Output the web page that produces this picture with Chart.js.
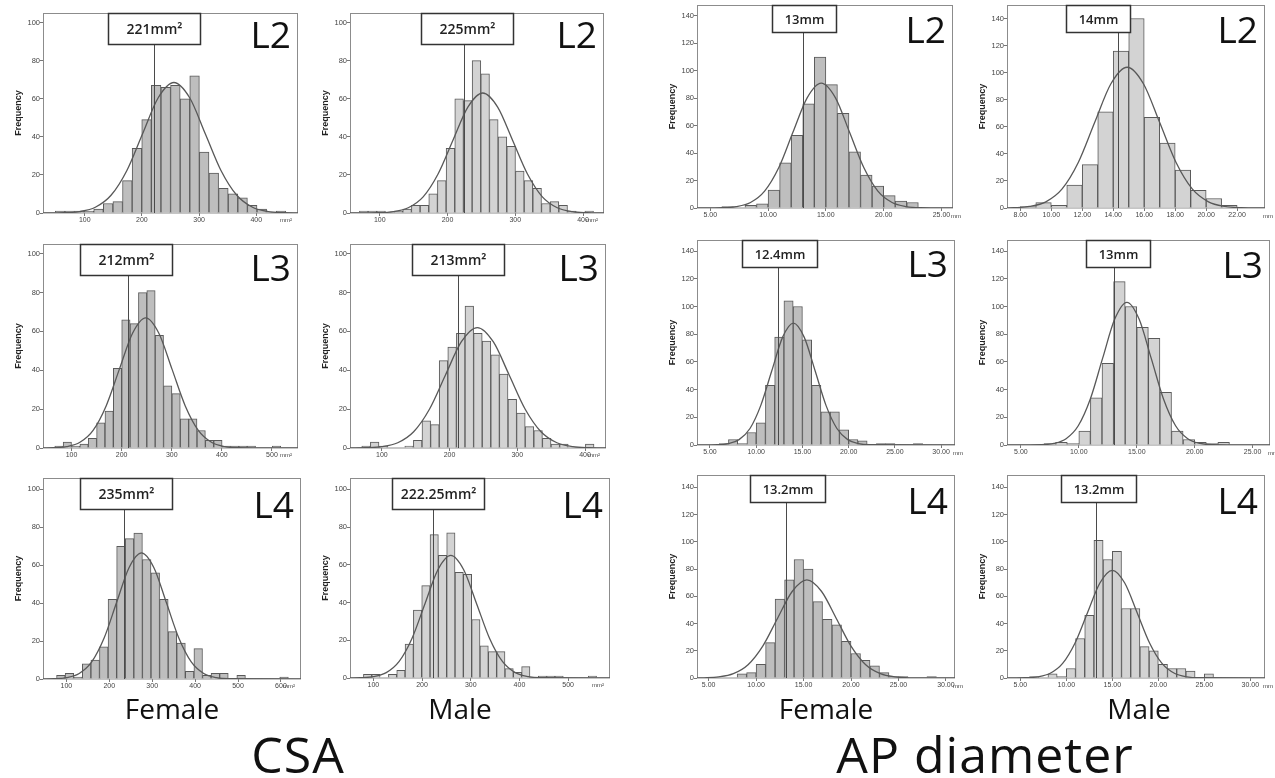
<!DOCTYPE html>
<html lang="en">
<head>
<meta charset="UTF-8">
<title>CSA and AP diameter distributions</title>
<script src="https://cdn.jsdelivr.net/npm/chart.js@4.4.1/dist/chart.umd.min.js"></script>
<style>
  html, body { margin: 0; padding: 0; background: #fff; overflow: hidden; }
  body { width: 1275px; height: 778px; position: relative; font-family: 'Open Sans', sans-serif; color: #111; }
  .panel { position: absolute; }
  .lvl { position: absolute; width: 70px; text-align: right; font-size: 37px; line-height: 1; }
  .grp { position: absolute; font-size: 28px; line-height: 1; transform: translateX(-50%); white-space: nowrap; }
  .measure { position: absolute; font-size: 50px; line-height: 1; letter-spacing: 1px; transform: translateX(-50%); white-space: nowrap; }
</style>
</head>
<body>
<script>
// ---------- data ----------
const levels = ['L2', 'L3', 'L4'];
const groups = ['Female', 'Male', 'Female', 'Male'];
const measures = ['CSA', 'AP diameter'];

// tick labels
const csaTicks4 = [100, 200, 300, 400];
const csaTicks5 = [100, 200, 300, 400, 500];
const csaTicks6 = [100, 200, 300, 400, 500, 600];
const apTicks25 = [5, 10, 15, 20, 25];
const apTicks30 = [5, 10, 15, 20, 25, 30];
const apTicksEven = [8, 10, 12, 14, 16, 18, 20, 22];
const freqTicks100 = [0, 20, 40, 60, 80, 100];
const freqTicks140 = [0, 20, 40, 60, 80, 100, 120, 140];

// panel order: L2 row, L3 row, L4 row; columns CSA female, CSA male, AP female, AP male
const xTicks = [csaTicks4, csaTicks4, apTicks25, apTicksEven,
                csaTicks5, csaTicks4, apTicks30, apTicks25,
                csaTicks6, csaTicks5, apTicks30, apTicks30];
const yTicks = [freqTicks100, freqTicks100, freqTicks140, freqTicks140,
                freqTicks100, freqTicks100, freqTicks140, freqTicks140,
                freqTicks100, freqTicks100, freqTicks140, freqTicks140];
const xMins = [27, 56, 3.85, 7.14, 43, 53, 3.6, 3.8, 45.6, 52, 3.77, 3.55];
const xMaxs = [473, 431, 26, 23.8, 552, 431, 31.5, 26.5, 646.7, 586, 30.96, 31.6];
const yMaxs = [105, 105, 148, 150, 105, 105, 148, 148, 106, 106, 149, 149];
const binStarts = [48.5, 69.9, 6, 8, 66.5, 70.4, 6, 7, 77.2, 79.6, 8, 6];
const binWidths = [16.8, 12.8, 1, 1, 16.7, 12.7, 1, 1, 20, 17.1, 1, 1];

// histogram counts
const countsCsaFL2 = [1, 1, 1, 1, 2, 5, 6, 17, 34, 49, 67, 66, 67, 60, 72, 32, 21, 13, 10, 8, 4, 2, 0, 1];
const countsCsaML2 = [1, 1, 1, 0, 1, 2, 4, 4, 10, 17, 34, 60, 59, 80, 73, 49, 40, 35, 22, 17, 13, 5, 6, 4, 1, 0, 1];
const countsApFL2 = [1, 0, 2, 3, 13, 33, 53, 76, 110, 90, 69, 41, 24, 16, 9, 5, 4];
const countsApML2 = [1, 4, 2, 17, 32, 71, 116, 140, 67, 48, 28, 13, 7, 2];
const countsCsaFL3 = [1, 3, 1, 2, 5, 13, 19, 41, 66, 64, 80, 81, 58, 32, 28, 15, 15, 9, 4, 4, 1, 1, 1, 1, 0, 0, 1];
const countsCsaML3 = [1, 3, 1, 0, 0, 1, 4, 14, 12, 45, 52, 59, 73, 59, 55, 48, 38, 25, 18, 11, 9, 5, 2, 2, 0, 0, 2];
const countsApFL3 = [1, 4, 1, 9, 16, 43, 78, 104, 100, 76, 43, 24, 24, 11, 4, 3, 0, 1, 1, 0, 0, 1];
const countsApML3 = [1, 2, 1, 10, 34, 59, 118, 100, 85, 77, 38, 10, 4, 2, 1, 2];
const countsCsaFL4 = [2, 3, 1, 8, 10, 17, 42, 70, 74, 77, 63, 56, 42, 25, 19, 4, 16, 2, 3, 3, 0, 2, 0, 0, 0, 0, 1];
const countsCsaML4 = [2, 2, 0, 2, 4, 18, 36, 49, 76, 65, 77, 56, 55, 31, 17, 14, 14, 5, 3, 6, 0, 1, 1, 1, 0, 0, 0, 1];
const countsApFL4 = [3, 4, 10, 26, 58, 72, 87, 80, 56, 43, 39, 27, 18, 13, 9, 4, 1, 1, 0, 0, 1];
const countsApML4 = [1, 0, 3, 1, 7, 29, 46, 101, 87, 93, 51, 51, 23, 20, 10, 7, 7, 5, 0, 3];

// fitted normal curves [x, frequency]
const curveCsaFL2 = [[27, 0.02], [63.5, 0.15], [91, 0.76], [118.5, 3.0], [146, 9.3], [173.5, 22.2], [201, 41.5], [228.5, 60.5], [256, 68.5], [283.5, 60.5], [311, 41.5], [338.5, 22.2], [366, 9.3], [393.5, 3.0], [421, 0.76], [448.5, 0.15], [473, 0.02]];
const curveCsaML2 = [[56, 0.01], [98, 0.14], [120, 0.7], [142, 2.77], [164, 8.5], [186, 20.5], [208, 38.2], [230, 55.6], [252, 63], [274, 55.6], [296, 38.2], [318, 20.5], [340, 8.5], [362, 2.77], [384, 0.7], [406, 0.14], [431, 0.01]];
const curveApFL2 = [[3.85, 0.01], [6.03, 0.2], [7.25, 1.0], [8.48, 4.0], [9.7, 12.3], [10.93, 29.5], [12.15, 55.2], [13.38, 80.3], [14.6, 91], [15.83, 80.3], [17.05, 55.2], [18.28, 29.5], [19.5, 12.3], [20.73, 4.0], [21.95, 1.0], [23.18, 0.2], [26, 0.01]];
const curveApML2 = [[7.14, 0.1], [7.55, 0.23], [8.6, 1.15], [9.65, 4.57], [10.7, 14.1], [11.75, 33.8], [12.8, 63.1], [13.85, 91.8], [14.9, 104], [15.95, 91.8], [17.0, 63.1], [18.05, 33.8], [19.1, 14.1], [20.15, 4.57], [21.2, 1.15], [22.25, 0.23], [23.8, 0.02]];
const curveCsaFL3 = [[43, 0.01], [64.25, 0.15], [90.5, 0.74], [116.75, 2.94], [143, 9.07], [169.25, 21.8], [195.5, 40.6], [221.75, 59.1], [248, 67], [274.25, 59.1], [300.5, 40.6], [326.75, 21.8], [353, 9.07], [379.25, 2.94], [405.5, 0.74], [431.75, 0.15], [552, 0]];
const curveCsaML3 = [[53, 0.03], [76.5, 0.14], [100, 0.69], [123.5, 2.72], [147, 8.39], [170.5, 20.1], [194, 37.6], [217.5, 54.7], [241, 62], [264.5, 54.7], [288, 37.6], [311.5, 20.1], [335, 8.39], [358.5, 2.72], [382, 0.69], [405.5, 0.14], [431, 0.02]];
const curveApFL3 = [[3.6, 0.01], [5.8, 0.19], [6.98, 0.98], [8.15, 3.86], [9.33, 11.9], [10.5, 28.6], [11.68, 53.4], [12.85, 77.7], [14.03, 88], [15.2, 77.7], [16.38, 53.4], [17.55, 28.6], [18.73, 11.9], [19.9, 3.86], [21.08, 0.98], [22.25, 0.19], [31.5, 0]];
const curveApML3 = [[3.8, 0.01], [6.8, 0.23], [7.85, 1.14], [8.9, 4.52], [9.95, 13.9], [11.0, 33.4], [12.05, 62.5], [13.1, 90.9], [14.15, 103], [15.2, 90.9], [16.25, 62.5], [17.3, 33.4], [18.35, 13.9], [19.4, 4.52], [20.45, 1.14], [21.5, 0.23], [26.5, 0]];
const curveCsaFL4 = [[45.6, 0.06], [72, 0.15], [101, 0.74], [130, 2.92], [159, 9.0], [188, 21.6], [217, 40.3], [246, 58.7], [275, 66.5], [304, 58.7], [333, 40.3], [362, 21.6], [391, 9.0], [420, 2.92], [449, 0.74], [478, 0.15], [646.7, 0]];
const curveCsaML4 = [[52, 0.03], [73.5, 0.14], [100, 0.72], [126.5, 2.85], [153, 8.8], [179.5, 21.1], [206, 39.4], [232.5, 57.4], [259, 65], [285.5, 57.4], [312, 39.4], [338.5, 21.1], [365, 8.8], [391.5, 2.85], [418, 0.72], [444.5, 0.14], [586, 0]];
const curveApFL4 = [[3.77, 0.06], [4.5, 0.16], [6.05, 0.8], [7.6, 3.16], [9.15, 9.74], [10.7, 23.4], [12.25, 43.7], [13.8, 63.5], [15.35, 72], [16.9, 63.5], [18.45, 43.7], [20.0, 23.4], [21.55, 9.74], [23.1, 3.16], [24.65, 0.8], [26.2, 0.16], [30.96, 0]];
const curveApML4 = [[3.55, 0.01], [5.55, 0.17], [6.9, 0.88], [8.25, 3.47], [9.6, 10.7], [10.95, 25.7], [12.3, 47.9], [13.65, 69.7], [15.0, 79], [16.35, 69.7], [17.7, 47.9], [19.05, 25.7], [20.4, 10.7], [21.75, 3.47], [23.1, 0.88], [24.45, 0.17], [31.6, 0]];

// cut-off marker lines and their labels
const markerValues = [221, 225, 13, 14.3, 212, 213, 12.4, 13, 235, 222.25, 13.2, 13.2];
const markerLabels = ['221mm²', '225mm²', '13mm', '14mm', '212mm²', '213mm²', '12.4mm', '13mm', '235mm²', '222.25mm²', '13.2mm', '13.2mm'];

const allCounts = [countsCsaFL2, countsCsaML2, countsApFL2, countsApML2,
                   countsCsaFL3, countsCsaML3, countsApFL3, countsApML3,
                   countsCsaFL4, countsCsaML4, countsApFL4, countsApML4];
const allCurves = [curveCsaFL2, curveCsaML2, curveApFL2, curveApML2,
                   curveCsaFL3, curveCsaML3, curveApFL3, curveApML3,
                   curveCsaFL4, curveCsaML4, curveApFL4, curveApML4];

// ---------- layout ----------
// plot frame of each panel on the page: left, top, right, bottom
const plotRects = [
  [43, 13, 298, 213], [350, 13, 604, 213], [697, 5, 953, 208], [1007, 5, 1265, 208],
  [43, 244, 298, 448], [350, 244, 606, 448], [697, 240, 955, 445], [1007, 240, 1270, 445],
  [43, 478, 301, 679], [350, 478, 610, 678], [697, 475, 955, 678], [1007, 475, 1265, 678]
];
// where the label boxes sit (axis units)
const boxCentres = [221, 228.4, 13.07, 13.0, 208.7, 212, 12.5, 13.4, 238.4, 232.9, 13.33, 13.48];
const levelCapTops = [22, 22, 17, 17, 255, 255, 251, 252, 492, 492, 488, 488];

const PAD_TOP = 8, Y_AXIS_W = 36, X_AXIS_H = 14, PAD_RIGHT = 14;

const framePlugin = {
  id: 'frame',
  beforeDatasetsDraw(chart) {
    const {ctx, chartArea: a} = chart;
    ctx.save();
    ctx.strokeStyle = '#8c8c8c';
    ctx.lineWidth = 1;
    ctx.strokeRect(a.left + 0.5, a.top + 0.5, a.right - a.left - 1, a.bottom - a.top - 0.5);
    ctx.restore();
  },
  afterDatasetsDraw(chart, args, opts) {
    const {ctx, chartArea: a} = chart;
    const x = chart.scales.x;
    ctx.save();
    // marker line
    const mx = Math.round(x.getPixelForValue(opts.value)) + 0.5;
    ctx.strokeStyle = '#4a4a4a';
    ctx.lineWidth = 1;
    ctx.beginPath();
    ctx.moveTo(mx, a.top + opts.boxH);
    ctx.lineTo(mx, a.bottom);
    ctx.stroke();
    // label box
    ctx.font = opts.font;
    const tw = ctx.measureText(opts.label).width;
    const bw = opts.boxW ? opts.boxW : Math.round(tw + 24);
    const bx = Math.round(x.getPixelForValue(opts.centre) - bw / 2) + 0.5;
    const by = a.top + 0.5;
    ctx.fillStyle = '#fff';
    ctx.fillRect(bx, by, bw, opts.boxH);
    ctx.lineWidth = 1.5;
    ctx.strokeStyle = '#333';
    ctx.strokeRect(bx, by, bw, opts.boxH);
    ctx.fillStyle = '#222';
    ctx.textAlign = 'center';
    ctx.textBaseline = 'middle';
    ctx.fillText(opts.label, bx + bw / 2, by + opts.boxH / 2 + 1);
    // unit at the end of the x axis
    ctx.font = '6px "Liberation Sans"';
    ctx.fillStyle = '#444';
    ctx.textBaseline = 'top';
    if (opts.unit === 'mm') {
      ctx.textAlign = 'left';
      ctx.fillText('mm', a.right - 2, a.bottom + 5);
    } else {
      ctx.textAlign = 'right';
      ctx.fillText('mm²', a.right - 6, a.bottom + 4);
    }
    ctx.restore();
  }
};

plotRects.forEach(function (rect, i) {
  const [l, t, r, b] = rect;
  const isCsa = (i % 4) < 2;
  const isFemale = (i % 2) === 0;
  const w = r - l + Y_AXIS_W + PAD_RIGHT;
  const h = b - t + PAD_TOP + X_AXIS_H;

  const div = document.createElement('div');
  div.className = 'panel';
  div.style.left = (l - Y_AXIS_W) + 'px';
  div.style.top = (t - PAD_TOP) + 'px';
  const cv = document.createElement('canvas');
  cv.width = w;
  cv.height = h;
  cv.style.width = w + 'px';
  cv.style.height = h + 'px';
  div.appendChild(cv);
  document.body.appendChild(div);

  const bars = allCounts[i].map((c, k) => ({x: binStarts[i] + (k + 0.5) * binWidths[i], y: c}));
  const curve = allCurves[i].map(p => ({x: p[0], y: p[1]}));

  new Chart(cv, {
    type: 'bar',
    data: {
      datasets: [
        {
          type: 'line',
          data: curve,
          borderColor: '#585858',
          borderWidth: 1.3,
          pointRadius: 0,
          cubicInterpolationMode: 'monotone',
          fill: false,
          order: 0
        },
        {
          type: 'bar',
          data: bars,
          backgroundColor: isFemale ? '#bebebe' : '#d3d3d3',
          borderColor: '#5a5a5a',
          borderWidth: 1,
          barPercentage: 1,
          categoryPercentage: 1,
          order: 1
        }
      ]
    },
    options: {
      responsive: false,
      animation: false,
      events: [],
      layout: {padding: {top: PAD_TOP, right: PAD_RIGHT, bottom: 0, left: 0}},
      plugins: {
        legend: {display: false},
        tooltip: {enabled: false},
        frame: {
          value: markerValues[i],
          centre: boxCentres[i],
          label: markerLabels[i],
          font: isCsa ? '600 14px "Open Sans"' : '600 13px "Open Sans"',
          boxW: isCsa ? 92 : 0,
          boxH: isCsa ? 31 : 27,
          unit: isCsa ? 'mm²' : 'mm'
        }
      },
      scales: {
        x: {
          type: 'linear',
          min: xMins[i],
          max: xMaxs[i],
          offset: false,
          afterBuildTicks: s => { s.ticks = xTicks[i].map(v => ({value: v})); },
          afterFit: s => { s.height = X_AXIS_H; },
          border: {display: false},
          grid: {display: true, offset: false, drawOnChartArea: false, drawTicks: true, tickLength: 3, color: '#777'},
          ticks: {
            autoSkip: false,
            maxRotation: 0,
            padding: 0,
            color: '#444',
            font: {family: 'Liberation Sans', size: 7},
            callback: v => isCsa ? String(v) : v.toFixed(2)
          }
        },
        y: {
          type: 'linear',
          min: 0,
          max: yMaxs[i],
          afterBuildTicks: s => { s.ticks = yTicks[i].map(v => ({value: v})); },
          afterFit: s => { s.width = Y_AXIS_W; },
          border: {display: false},
          grid: {display: true, drawOnChartArea: false, drawTicks: true, tickLength: 3, color: '#777'},
          ticks: {
            padding: 0,
            color: '#444',
            font: {family: 'Liberation Sans', size: 7.5}
          },
          title: {
            display: true,
            text: 'Frequency',
            color: '#222',
            font: {family: 'Liberation Sans', size: 9, weight: 'bold'},
            padding: {top: 6, bottom: 0}
          }
        }
      }
    },
    plugins: [framePlugin]
  });

  // level label (L2 / L3 / L4)
  const lv = document.createElement('div');
  lv.className = 'lvl';
  lv.textContent = levels[Math.floor(i / 4)];
  lv.style.left = (r - 7 - 70) + 'px';
  lv.style.top = (levelCapTops[i] - 7) + 'px';
  document.body.appendChild(lv);
});

// group captions under each column
const groupCentres = [172, 460, 826, 1139];
groups.forEach(function (g, k) {
  const d = document.createElement('div');
  d.className = 'grp';
  d.textContent = g;
  d.style.left = groupCentres[k] + 'px';
  d.style.top = '694px';
  document.body.appendChild(d);
});

// measure captions
const measureCentres = [298, 985];
measures.forEach(function (m, k) {
  const d = document.createElement('div');
  d.className = 'measure';
  d.textContent = m;
  d.style.left = measureCentres[k] + 'px';
  d.style.top = '729px';
  document.body.appendChild(d);
});
</script>
</body>
</html>
